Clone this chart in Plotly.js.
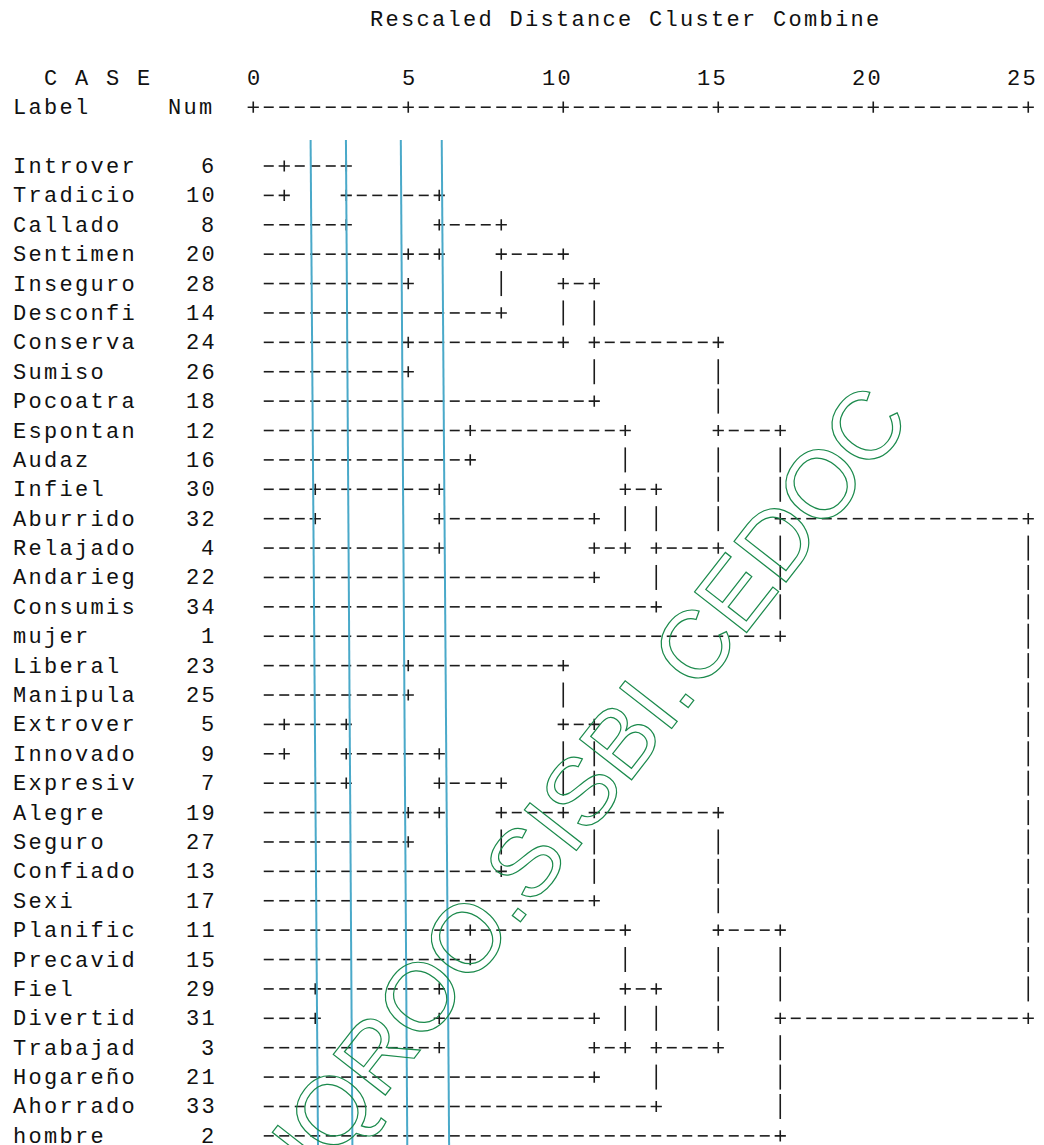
<!DOCTYPE html>
<html><head><meta charset="utf-8">
<script src="https://cdn.plot.ly/plotly-3.0.1.min.js"></script>
<style>
html,body{margin:0;padding:0;background:#fff;}
#chart{width:1044px;height:1145px;}
text.annotation-text{letter-spacing:2.3px;}
</style>
</head><body><div id="chart"></div>
<script>
// ---- data ----
const caseLabels = ['Introver','Tradicio','Callado','Sentimen','Inseguro','Desconfi','Conserva','Sumiso','Pocoatra','Espontan','Audaz','Infiel','Aburrido','Relajado','Andarieg','Consumis','mujer','Liberal','Manipula','Extrover','Innovado','Expresiv','Alegre','Seguro','Confiado','Sexi','Planific','Precavid','Fiel','Divertid','Trabajad','Hogareño','Ahorrado','hombre'];
const caseNums = [6,10,8,20,28,14,24,26,18,12,16,30,32,4,22,34,1,23,25,5,9,7,19,27,13,17,11,15,29,31,3,21,33,2];
// agglomeration steps: a row of the upper cluster, a row of the lower cluster, rescaled distance
const mergeTop    = [1,20,12,29,1,20,4,7,18,23,1,12,20,29,10,27,1,20,1,18,1,12,18,29,10,27,10,27,1,18,1,18,1];
const mergeBottom = [2,21,13,30,3,22,5,8,19,24,4,14,23,31,11,28,6,25,7,20,9,15,26,32,12,29,16,33,10,27,17,34,18];
const mergeDist   = [1,1,2,2,3,3,5,5,5,5,6,6,6,6,7,7,8,8,10,10,11,11,11,11,12,12,13,13,15,15,17,17,25];
const axisTicks = [0,5,10,15,20,25];
const cutTop    = [1.85, 2.99, 4.76, 6.08];
const cutBottom = [2.09, 3.20, 4.97, 6.32];
const titleText = 'Rescaled Distance Cluster Combine';
const watermarkText = 'UQROO.SISBI.CEDOC';

// ---- geometry of the text grid ----
const W = 1044, H = 1145;
const UNIT = 31;          // px per rescaled-distance unit (2 characters)
const X0 = 253.25;        // px of distance 0
const ROW = 29.39;        // px per text row
const Y1 = 166;           // px of first case row
const xRange = [-X0/UNIT, (W - X0)/UNIT];
const yRange = [1 + (H - Y1)/ROW, 1 - Y1/ROW];
const colLeft = c => c/2 - 7.75;   // left edge of text column c in x units
const DASH = 5/UNIT, BAR = 12.5/ROW;
const INK = '#1c1c1c';
const MONO = 'Liberation Mono, Courier New, monospace';
const LS = 2.3;           // letter spacing used by the css rule

const hx = [], hy = [], vx = [], vy = [], px = [], py = [];
function dashes(row, from, to){
  for (let xc = from; xc <= to + 1e-9; xc += 0.5){
    hx.push(xc - DASH, xc + DASH, null); hy.push(row, row, null);
  }
}
function bar(x, row){ vx.push(x, x, null); vy.push(row - BAR, row + BAR, null); }
function plus(x, row){ px.push(x); py.push(row); }

// union-find over rows
const n = caseLabels.length;
const owner = {};
for (let r = 1; r <= n; r++) owner[r] = {rows:[r], anchor:r, x:null};
for (let i = 0; i < mergeDist.length; i++){
  let P = owner[mergeTop[i]], Q = owner[mergeBottom[i]];
  if (P.anchor > Q.anchor){ const t = P; P = Q; Q = t; }
  const d = mergeDist[i];
  [P, Q].forEach(C => {
    dashes(C.anchor, C.x === null ? 0.5 : C.x + 0.5, d - 0.5);
    plus(d, C.anchor);
  });
  const rows = P.rows.concat(Q.rows);
  const root = rows.length === n;
  const a = Math.floor((P.anchor + Q.anchor)/2);
  for (let r = P.anchor + 1; r < Q.anchor; r++){
    if (root || r !== a) bar(d, r);
  }
  if (!root && a !== P.anchor) plus(d, a);
  const NC = {rows, anchor:a, x:d};
  rows.forEach(r => owner[r] = NC);
}
// ruler of the header
const rulerRow = -1;
for (let k = 0; k < axisTicks.length; k++){
  plus(axisTicks[k], rulerRow);
  if (k > 0) dashes(rulerRow, axisTicks[k-1] + 0.5, axisTicks[k] - 0.5);
}

const traces = [
  {type:'scatter', mode:'lines', x:hx, y:hy, line:{color:INK, width:1.6}, hoverinfo:'skip', connectgaps:false},
  {type:'scatter', mode:'lines', x:vx, y:vy, line:{color:INK, width:1.6}, hoverinfo:'skip', connectgaps:false},
  {type:'scatter', mode:'markers', x:px, y:py, marker:{symbol:'cross-thin', size:8, line:{color:INK, width:1.6}}, hoverinfo:'skip'}
];
const yBottom = yRange[0] + 0.2, yTop = 1 + (140 - Y1)/ROW;
for (let i = 0; i < cutTop.length; i++){
  traces.push({type:'scatter', mode:'lines', x:[cutTop[i], cutBottom[i]], y:[yTop, yBottom],
    line:{color:'#4aa9c9', width:2}, hoverinfo:'skip'});
}

const ann = [];
const tf = {family:MONO, size:22, color:'#111'};
function txt(text, x, y, anchor){
  ann.push({text, x, y, xref:'x', yref:'y', xanchor:anchor, yanchor:'middle', showarrow:false,
    font:tf, borderpad:0, borderwidth:0, yshift:-1.5, xshift: anchor === 'right' ? LS : 0});
}
caseLabels.forEach((l, i) => txt(l, colLeft(0), i + 1, 'left'));
caseNums.forEach((v, i) => txt(String(v), colLeft(13), i + 1, 'right'));
txt(titleText, colLeft(23), -4, 'left');
txt('C A S E', colLeft(2), -2, 'left');
txt('Label', colLeft(0), -1, 'left');
txt('Num', colLeft(10), -1, 'left');
axisTicks.forEach(v => txt(String(v), v + 0.25, -2, 'right'));
ann.push({text:watermarkText, x:(575 - X0)/UNIT, y:1 + (797 - Y1)/ROW, xref:'x', yref:'y',
  xanchor:'center', yanchor:'middle', showarrow:false, textangle:-52,
  font:{family:'Liberation Sans, Arial, sans-serif', size:96, color:'#1b8a4c'}, borderpad:0, borderwidth:0});

const layout = {
  width:W, height:H, margin:{l:0, r:0, t:0, b:0}, showlegend:false,
  paper_bgcolor:'#fff', plot_bgcolor:'#fff', hovermode:false,
  xaxis:{range:xRange, visible:false, fixedrange:true},
  yaxis:{range:yRange, visible:false, fixedrange:true},
  annotations:ann
};
Plotly.newPlot('chart', traces, layout, {staticPlot:true, displayModeBar:false}).then(gd => {
  gd.querySelectorAll('.annotation-text').forEach(t => {
    if (t.textContent === watermarkText){
      t.style.letterSpacing = '0px';
      t.style.fill = 'none'; t.style.stroke = '#1b8a4c'; t.style.strokeWidth = '1.2px';
    }
  });
});
</script>
</body></html>
